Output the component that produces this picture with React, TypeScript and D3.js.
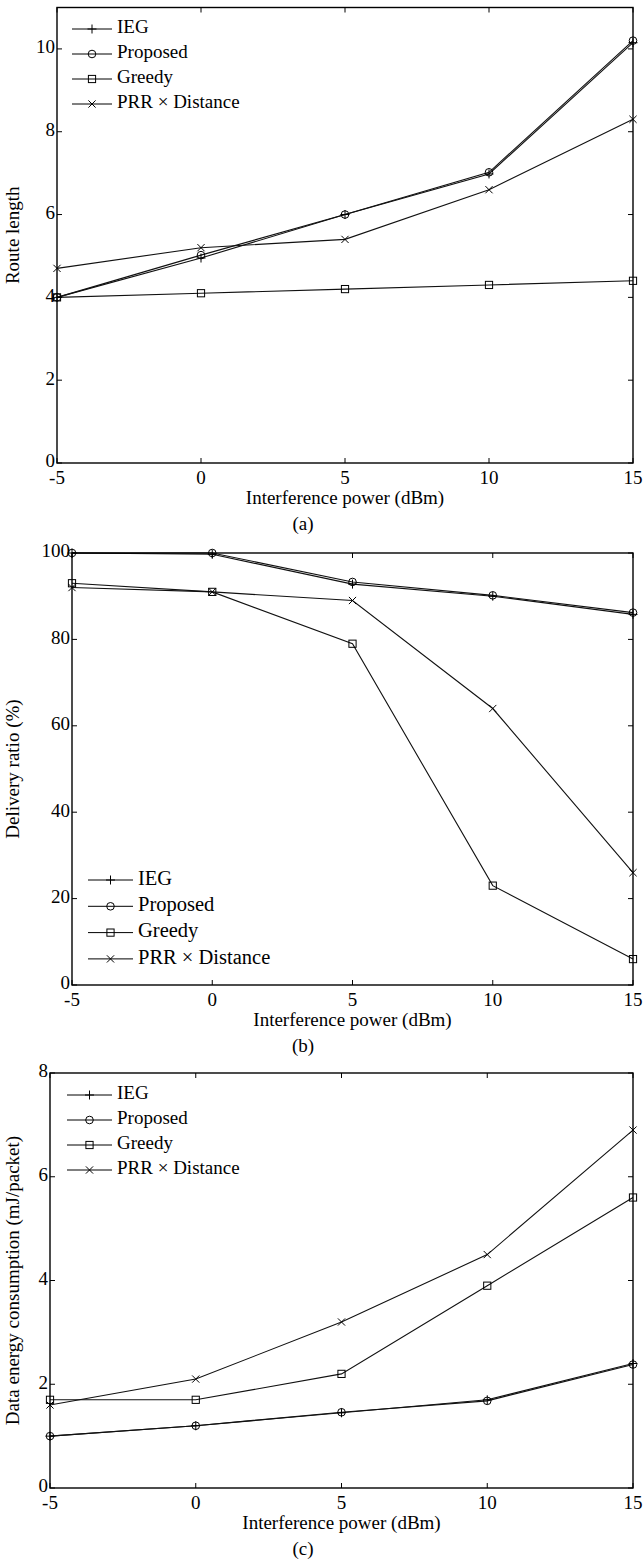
import React from "react";
import * as d3 from "d3";

const xValues = [-5, 0, 5, 10, 15];
const xTicks = [-5, 0, 5, 10, 15];
const seriesNames = ["IEG", "Proposed", "Greedy", "PRR \u00d7 Distance"];
const markerTypes = ["plus", "circle", "square", "cross"];

// Panel (a): Route length
const routeIEG = [4, 4.95, 6, 6.98, 10.15];
const routeProposed = [4, 5.02, 6, 7.02, 10.2];
const routeGreedy = [4, 4.1, 4.2, 4.3, 4.4];
const routePRR = [4.7, 5.2, 5.4, 6.6, 8.3];
const routeTicks = [0, 2, 4, 6, 8, 10];

// Panel (b): Delivery ratio
const deliveryIEG = [100, 99.7, 92.8, 90, 85.8];
const deliveryProposed = [100, 100, 93.3, 90.2, 86.2];
const deliveryGreedy = [93, 91, 79, 23, 6];
const deliveryPRR = [92, 91, 89, 64, 26];
const deliveryTicks = [0, 20, 40, 60, 80, 100];

// Panel (c): Data energy consumption
const energyIEG = [1.0, 1.2, 1.45, 1.7, 2.4];
const energyProposed = [1.0, 1.2, 1.46, 1.68, 2.38];
const energyGreedy = [1.7, 1.7, 2.2, 3.9, 5.6];
const energyPRR = [1.6, 2.1, 3.2, 4.5, 6.9];
const energyTicks = [0, 2, 4, 6, 8];

const FONT = "'Liberation Serif', 'Times New Roman', serif";

type PanelProps = {
  left: number;
  right: number;
  top: number;
  bottom: number;
  yMax: number;
  yTicks: number[];
  series: number[][];
  yTitle: string;
  caption: string;
  legendX: number;
  legendY: number;
  legendGap: number;
  legendFont: number;
  legendLine: number;
};

function Marker({ type, x, y }: { type: string; x: number; y: number }) {
  const s = 4.5;
  if (type === "plus")
    return <path d={`M${x - s},${y}H${x + s}M${x},${y - s}V${y + s}`} stroke="#000" strokeWidth={1} fill="none" />;
  if (type === "circle") return <circle cx={x} cy={y} r={3.8} stroke="#000" strokeWidth={1} fill="none" />;
  if (type === "square")
    return <rect x={x - 3.6} y={y - 3.6} width={7.2} height={7.2} stroke="#000" strokeWidth={1} fill="none" />;
  const c = 3.6;
  return <path d={`M${x - c},${y - c}L${x + c},${y + c}M${x - c},${y + c}L${x + c},${y - c}`} stroke="#000" strokeWidth={1} fill="none" />;
}

function Panel(p: PanelProps) {
  const x = d3.scaleLinear().domain([-5, 15]).range([p.left, p.right]);
  const y = d3.scaleLinear().domain([0, p.yMax]).range([p.bottom, p.top]);
  const line = d3
    .line<number>()
    .x((_, i) => x(xValues[i]))
    .y((d) => y(d));
  const tl = 5;
  return (
    <g>
      {p.series.map((s, si) => (
        <path key={"l" + si} d={line(s) || ""} stroke="#111" strokeWidth={1.1} fill="none" />
      ))}
      {p.series.map((s, si) =>
        s.map((v, i) => <Marker key={`m${si}-${i}`} type={markerTypes[si]} x={x(xValues[i])} y={y(v)} />)
      )}
      <rect x={p.left} y={p.top} width={p.right - p.left} height={p.bottom - p.top} fill="none" stroke="#000" strokeWidth={1.4} />
      {xTicks.map((t) => (
        <g key={"xt" + t}>
          <line x1={x(t)} x2={x(t)} y1={p.bottom} y2={p.bottom - tl} stroke="#000" strokeWidth={1} />
          <line x1={x(t)} x2={x(t)} y1={p.top} y2={p.top + tl} stroke="#000" strokeWidth={1} />
          <text x={x(t)} y={p.bottom + 17} textAnchor="middle" dominantBaseline="middle" fontSize={19} fontFamily={FONT}>
            {t}
          </text>
        </g>
      ))}
      {p.yTicks.map((t) => (
        <g key={"yt" + t}>
          <line x1={p.left} x2={p.left + tl} y1={y(t)} y2={y(t)} stroke="#000" strokeWidth={1} />
          <line x1={p.right} x2={p.right - tl} y1={y(t)} y2={y(t)} stroke="#000" strokeWidth={1} />
          <text x={p.left - 2} y={y(t)} textAnchor="end" dominantBaseline="middle" fontSize={19} fontFamily={FONT}>
            {t}
          </text>
        </g>
      ))}
      <text x={(p.left + p.right) / 2} y={p.bottom + 37} textAnchor="middle" dominantBaseline="middle" fontSize={19} fontFamily={FONT}>
        Interference power (dBm)
      </text>
      <text x={303} y={p.bottom + 63} textAnchor="middle" dominantBaseline="middle" fontSize={19} fontFamily={FONT}>
        {p.caption}
      </text>
      <text
        transform={`translate(15,${(p.top + p.bottom) / 2}) rotate(-90)`}
        textAnchor="middle"
        dominantBaseline="middle"
        fontSize={19}
        fontFamily={FONT}
      >
        {p.yTitle}
      </text>
      {seriesNames.map((n, i) => {
        const ly = p.legendY + i * p.legendGap;
        return (
          <g key={"lg" + i}>
            <line x1={p.legendX} x2={p.legendX + p.legendLine} y1={ly} y2={ly} stroke="#000" strokeWidth={1} />
            <Marker type={markerTypes[i]} x={p.legendX + p.legendLine / 2} y={ly} />
            <text x={p.legendX + p.legendLine + 5} y={ly} dominantBaseline="middle" fontSize={p.legendFont} fontFamily={FONT}>
              {n}
            </text>
          </g>
        );
      })}
    </g>
  );
}

export default function App() {
  return (
    <svg width={644} height={1567} style={{ position: "absolute", left: 0, top: 0, background: "#fff" }}>
      <rect x={0} y={0} width={644} height={1567} fill="#fff" />
      <Panel
        left={57}
        right={633}
        top={7.5}
        bottom={463}
        yMax={11}
        yTicks={routeTicks}
        series={[routeIEG, routeProposed, routeGreedy, routePRR]}
        yTitle="Route length"
        caption="(a)"
        legendX={72}
        legendY={29}
        legendGap={25}
        legendFont={19}
        legendLine={40}
      />
      <Panel
        left={72}
        right={633}
        top={553}
        bottom={985}
        yMax={100}
        yTicks={deliveryTicks}
        series={[deliveryIEG, deliveryProposed, deliveryGreedy, deliveryPRR]}
        yTitle="Delivery ratio (%)"
        caption="(b)"
        legendX={88}
        legendY={880}
        legendGap={26.3}
        legendFont={20.5}
        legendLine={45}
      />
      <Panel
        left={50}
        right={633}
        top={1073}
        bottom={1488}
        yMax={8}
        yTicks={energyTicks}
        series={[energyIEG, energyProposed, energyGreedy, energyPRR]}
        yTitle="Data energy consumption (mJ/packet)"
        caption="(c)"
        legendX={67}
        legendY={1095}
        legendGap={25}
        legendFont={19}
        legendLine={45}
      />
    </svg>
  );
}
